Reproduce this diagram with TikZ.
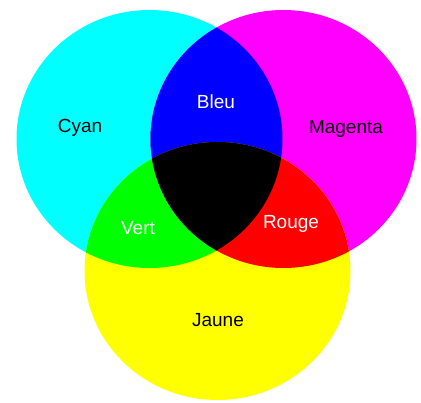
\documentclass[tikz,border=0pt]{standalone}
\usepackage{fontspec}
\setmainfont{Liberation Sans}
\definecolor{cy}{RGB}{0,255,255}
\definecolor{mg}{RGB}{255,0,255}
\definecolor{ye}{RGB}{255,255,0}
\definecolor{bl}{RGB}{0,0,255}
\definecolor{gr}{RGB}{0,255,0}
\definecolor{rd}{RGB}{255,0,0}
\begin{document}
\begin{tikzpicture}[x=1pt,y=-1pt,
  lab/.style={font=\fontsize{19}{21}\selectfont, inner sep=0pt}]
\useasboundingbox (0,0) rectangle (421,403);
\def\CC{(149.5,139) ellipse [x radius=133pt, y radius=129pt]}
\def\MC{(283.5,139) ellipse [x radius=133pt, y radius=129pt]}
\def\YC{(217.5,271) ellipse [x radius=133pt, y radius=129pt]}
\fill[cy] \CC;
\fill[mg] \MC;
\fill[ye] \YC;
\begin{scope}\clip \CC; \fill[bl] \MC;\end{scope}
\begin{scope}\clip \CC; \fill[gr] \YC;\end{scope}
\begin{scope}\clip \MC; \fill[rd] \YC;\end{scope}
\begin{scope}\clip \CC; \clip \MC; \fill[black] \YC;\end{scope}
\node[lab, text=black] (cyan) at (80,128) {Cyan};
\node[lab, text=black] (magenta) at (346,129) {Magenta};
\node[lab, text=black] (jaune) at (218,320) {Jaune};
\node[lab, text=white] (bleu) at (216,102) {Bleu};
\node[lab, text=white] (vert) at (138,228) {Vert};
\node[lab, text=white] (rouge) at (291,224) {Rouge};
\end{tikzpicture}
\end{document}
